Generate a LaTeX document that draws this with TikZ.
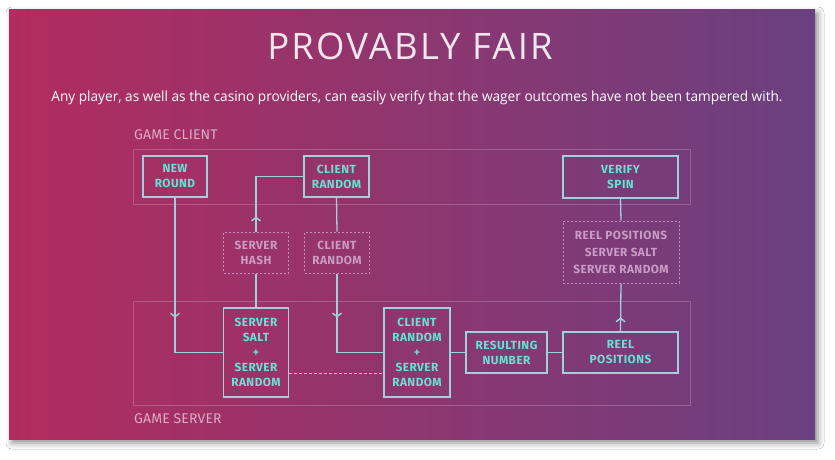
\documentclass[tikz,border=0pt]{standalone}
\usepackage{fontspec}
\setmainfont{Open Sans}
\newfontfamily\nodefont{Fira Sans}[LetterSpace=4]
\newfontfamily\labelfont{Fira Sans}[LetterSpace=1]
\newfontfamily\titlefont{Open Sans}[LetterSpace=6]
\usetikzlibrary{arrows.meta,shadows.blur,decorations.markings}
\definecolor{cardL}{RGB}{178,44,94}
\definecolor{cardR}{RGB}{106,64,128}
\definecolor{tealtext}{RGB}{98,228,212}
\definecolor{edgecol}{RGB}{160,208,218}
\definecolor{dashcol}{RGB}{196,140,190}
\definecolor{dashtext}{RGB}{200,156,196}
\tikzset{
  solidbox/.style={draw=edgecol, line width=1.3pt, text=tealtext,
    font=\nodefont\bfseries\fontsize{11.8}{15}\selectfont, align=center, inner sep=0pt},
  dashbox/.style={draw=dashcol, line width=1pt, dash pattern=on 2pt off 2pt, text=dashtext,
    font=\nodefont\bfseries\fontsize{11.8}{15}\selectfont, align=center, inner sep=0pt},
  region/.style={draw=white, draw opacity=0.2, line width=1pt},
  regionlabel/.style={text=white, text opacity=0.6, font=\labelfont\fontsize{14}{16}\selectfont, anchor=west, inner sep=0pt},
  conn/.style={draw=edgecol, line width=1.3pt},
  dotconn/.style={draw=edgecol, line width=1pt, dash pattern=on 2.5pt off 2.5pt},
  chevron/.style={postaction={decorate}, decoration={markings,
    mark=at position #1 with {\arrow{Straight Barb[length=3.5pt,width=9pt,line width=1.4pt]}}}}
}
\begin{document}
\begin{tikzpicture}[x=1pt,y=-1pt]
\useasboundingbox (0,0) rectangle (835,459);
\fill[white] (0,0) rectangle (835,459);
\path[fill=white, blur shadow={shadow xshift=3pt, shadow yshift=-4pt, shadow blur radius=6pt, shadow opacity=45}] (9,9) rectangle (815,439);
\shade[left color=cardL, right color=cardR] (9,9) rectangle (815,439);

% title and subtitle
\node[text=white, text opacity=0.88, font=\titlefont\fontsize{36.5}{40}\selectfont, inner sep=0pt] (title) at (410,46) {PROVABLY FAIR};
\node[text=white, font=\fontsize{14}{16}\selectfont, inner sep=0pt] (sub) at (417,98) {\scalebox{0.975}[1]{Any player, as well as the casino providers, can easily verify that the wager outcomes have not been tampered with.}};

% regions
\draw[region] (133,149) rectangle (690,204);
\draw[region] (133,301) rectangle (690,405);
\node[regionlabel] (gc) at (134,135) {GAME CLIENT};
\node[regionlabel] (gs) at (134,419) {GAME SERVER};

% nodes
\node[solidbox, minimum width=64pt, minimum height=41pt] (nr) at (175,176.5) {NEW\\ROUND};
\node[solidbox, minimum width=65pt, minimum height=41pt] (cr) at (336.5,176.5) {CLIENT\\RANDOM};
\node[solidbox, minimum width=115pt, minimum height=42pt] (vs) at (620.5,177) {VERIFY\\SPIN};
\node[dashbox, minimum width=65pt, minimum height=41pt] (sh) at (256,252.5) {SERVER\\HASH};
\node[dashbox, minimum width=65pt, minimum height=41pt] (cr2) at (337,252.5) {CLIENT\\RANDOM};
\node[dashbox, minimum width=116pt, minimum height=62pt, font=\nodefont\bfseries\fontsize{11.8}{17}\selectfont] (rd) at (621,252) {REEL POSITIONS\\SERVER SALT\\SERVER RANDOM};
\node[solidbox, minimum width=65pt, minimum height=89pt] (ss) at (256,352.5) {SERVER\\SALT\\+\\SERVER\\RANDOM};
\node[solidbox, minimum width=66pt, minimum height=89pt] (csr) at (417,352.5) {CLIENT\\RANDOM\\+\\SERVER\\RANDOM};
\node[solidbox, minimum width=81pt, minimum height=41pt] (rn) at (506.5,352.5) {RESULTING\\NUMBER};
\node[solidbox, minimum width=115pt, minimum height=41pt] (rp) at (620.5,352.5) {REEL\\POSITIONS};

% connectors
\draw[conn, chevron=120pt] (nr.south) |- (ss.west);
\draw[conn] (ss.north) -- (sh.south);
\draw[conn, chevron=15pt] (sh.north) |- (cr.west);
\draw[conn] (cr.south) -- (cr2.north);
\draw[conn, chevron=44pt] (cr2.south) |- (csr.west);
\draw[dotconn] ([yshift=-20.5pt]ss.east) -- ([yshift=-20.5pt]csr.west);
\draw[conn] (csr.east) -- (rn.west);
\draw[conn] (rn.east) -- (rp.west);
\draw[conn, chevron=14pt] (rp.north) -- (rd.south);
\draw[conn] (rd.north) -- (vs.south);
\end{tikzpicture}
\end{document}
